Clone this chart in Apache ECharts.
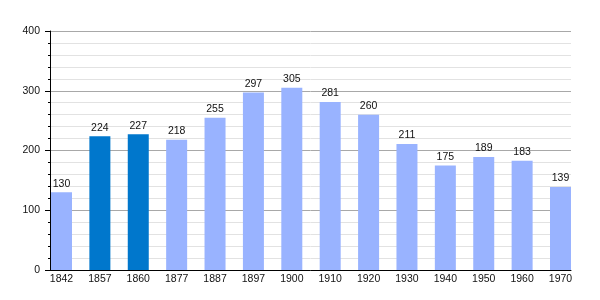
<!DOCTYPE html>
<html><head><meta charset="utf-8">
<script src="https://cdn.jsdelivr.net/npm/echarts@6/dist/echarts.min.js"></script>
<style>html,body{margin:0;padding:0;background:#fff}#c{width:600px;height:300px}</style>
</head><body><div id="c"></div>
<script>
const years = ['1842','1857','1860','1877','1887','1897','1900','1910','1920','1930','1940','1950','1960','1970'];
const population = [130,224,227,218,255,297,305,281,260,211,175,189,183,139];
const highlightYears = ['1857','1860'];
const yTicks = [0,100,200,300,400];

const FONT = "'Liberation Sans', Arial, sans-serif";
const chart = echarts.init(document.getElementById('c'), null, {renderer:'canvas'});
chart.setOption({
  animation:false,
  grid:[
    {left:50, right:29, top:31, bottom:30},
    {left:42.3, right:20.3, top:31, bottom:30}
  ],
  xAxis:[
    {gridIndex:0, type:'category', data:years, boundaryGap:true,
     axisLine:{lineStyle:{color:'#000', width:1}}, axisTick:{show:false}, axisLabel:{show:false}},
    {gridIndex:1, type:'category', data:years, boundaryGap:true,
     axisLine:{show:false}, axisTick:{show:false},
     axisLabel:{color:'#111', fontSize:10.5, fontFamily:FONT, margin:4}}
  ],
  yAxis:[
    {gridIndex:0, type:'value', min:yTicks[0], max:yTicks[yTicks.length-1], interval:100,
     axisLine:{show:true, lineStyle:{color:'#000'}},
     axisTick:{show:true, length:5, lineStyle:{color:'#000'}},
     minorTick:{show:true, splitNumber:5, length:2, lineStyle:{color:'#000'}},
     axisLabel:{color:'#111', fontSize:10.5, fontFamily:FONT, margin:10},
     splitLine:{show:true, lineStyle:{color:'#a8a8a8', width:1}},
     minorSplitLine:{show:true, lineStyle:{color:'#e2e2e2', width:1}}},
    {gridIndex:1, type:'value', min:yTicks[0], max:yTicks[yTicks.length-1], show:false}
  ],
  series:[{
    type:'bar', xAxisIndex:1, yAxisIndex:1, barWidth:21,
    data: population.map((v,i)=>({value:v, itemStyle:{color: highlightYears.includes(years[i]) ? '#0077cc' : '#99b3ff'}})),
    label:{show:true, position:'top', distance:3, color:'#111', fontSize:10.5, fontFamily:FONT}
  }]
});
</script></body></html>
